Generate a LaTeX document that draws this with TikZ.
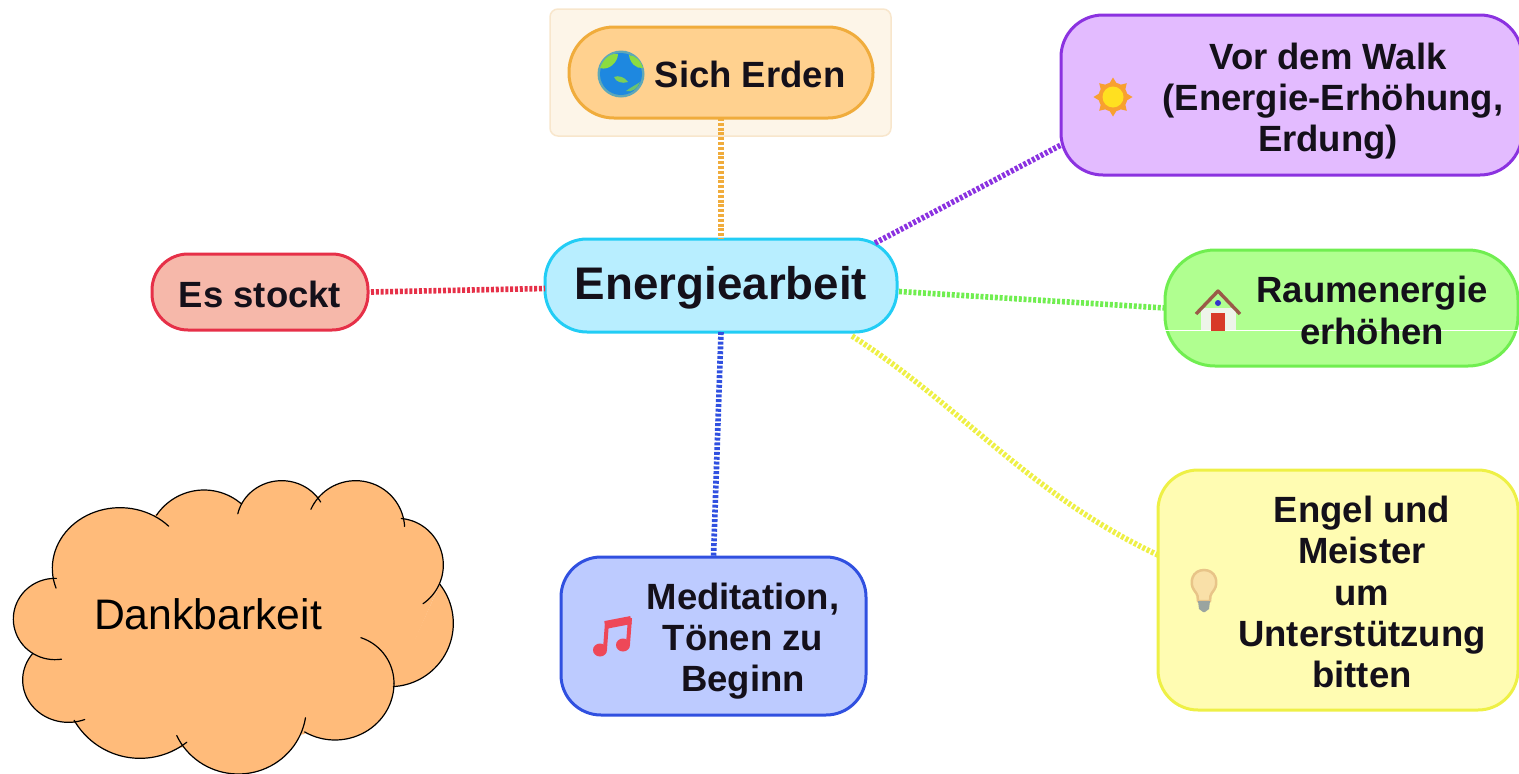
\documentclass[tikz,border=0pt]{standalone}
\usepackage{fontspec}
\setmainfont{Liberation Sans}
\definecolor{txt}{HTML}{14101A}
\definecolor{frameF}{HTML}{FDF5E8}\definecolor{frameD}{HTML}{F8E6CC}
\definecolor{orF}{HTML}{FFD18F}\definecolor{orD}{HTML}{F0AC3C}
\definecolor{puF}{HTML}{E3BBFF}\definecolor{puD}{HTML}{8B32E0}
\definecolor{grF}{HTML}{B0FF90}\definecolor{grD}{HTML}{70EE50}
\definecolor{cyF}{HTML}{B8EEFF}\definecolor{cyD}{HTML}{22CDF5}
\definecolor{reF}{HTML}{F6B8AA}\definecolor{reD}{HTML}{E63048}
\definecolor{blF}{HTML}{BDCBFF}\definecolor{blD}{HTML}{3050E0}
\definecolor{yeF}{HTML}{FFFCB2}\definecolor{yeD}{HTML}{EEF046}
\definecolor{cloudF}{HTML}{FFBB7A}
\definecolor{globeB}{HTML}{1E88E0}\definecolor{globeR}{HTML}{5FA8B8}\definecolor{globeG}{HTML}{8CDC40}
\definecolor{sunO}{HTML}{F8A030}\definecolor{sunY}{HTML}{FFE020}
\definecolor{noteR}{HTML}{EE4858}
\definecolor{bulbF}{HTML}{F9E0A8}\definecolor{bulbD}{HTML}{E8C488}\definecolor{bulbG}{HTML}{9AA4A0}
\definecolor{roof}{HTML}{9A5A48}\definecolor{door}{HTML}{D83A28}\definecolor{wall}{HTML}{EEF4EA}
\tikzset{
  box/.style n args={6}{draw=#1, fill=#2, line width=3pt, inner sep=0pt, outer sep=0pt, rectangle,
     rounded corners=#3, minimum width=#4, minimum height=#5, #6},
  lbl/.style={font=\fontsize{36.5}{41.3}\selectfont\bfseries, text=txt, align=center, inner sep=0pt},
  link/.style={draw=#1, line width=5.6pt, dash pattern=on 3pt off 1.8pt},
  cloudline/.style={draw=black, line width=1.2pt, line cap=round}
}
\newcommand\lobes{360/295/203/182/161/316, 612/232/172/172/214/311, 845/160/135/128/193/330,
  1067/177/147/145/204/357, 1192/285/138/140/275/416, 1170/460/190/190/-38/87,
  1038/640/144/144/-72/0, 1005/640/177/170/0/121, 715/712/204/200/9/155,
  420/637/228/228/52/150, 205/630/137/127/69/219, 165/447/125/122/81/272}
\begin{document}
\begin{tikzpicture}[x=1pt,y=-1pt]
\useasboundingbox (0,0) rectangle (1519,774);

% boxes
\node[box={frameD}{frameF}{8pt}{341pt}{127pt}{line width=1.5pt}] (frame) at (720.5,72.5) {};
\node[box={orD}{orF}{45pt}{304pt}{91pt}{}] (erden) at (721,72.5) {};
\node[box={puD}{puF}{42pt}{461pt}{160pt}{}] (walk) at (1291.5,95) {};
\node[box={grD}{grF}{50pt}{353pt}{116pt}{}] (raum) at (1341.5,308) {};
\node[box={cyD}{cyF}{42pt}{352pt}{93pt}{}] (energie) at (721,285.5) {};
\node[box={reD}{reF}{36pt}{216pt}{76pt}{}] (stockt) at (260,292) {};
\node[box={blD}{blF}{40pt}{305pt}{158pt}{}] (medi) at (713.5,636) {};
\node[box={yeD}{yeF}{40pt}{360pt}{240pt}{}] (engel) at (1338,590) {};

% connectors
\draw[link=orD] (erden.south) -- (energie.north);
\draw[link=puD] ([xshift=154pt,yshift=42.5pt]energie.center) -- ([xshift=-230.5pt,yshift=-50pt]walk.center);
\draw[link=grD] ([yshift=-6pt,xshift=2pt]energie.east) -- (raum.west);
\draw[link=yeD] ([xshift=131pt,yshift=-50.5pt]energie.center) .. controls (960,405) and (1030,495) .. ([yshift=35pt]engel.west);
\draw[link=blD] (energie.south) -- ([yshift=79pt]medi.center);
\draw[link=reD] ([xshift=3pt]stockt.east) -- ([yshift=-3pt]energie.west);

% thin scan line across the green box
\draw[white, line width=.6pt] (raum.west |- 0,330.5) -- (1519,330.5);

% labels
\node[lbl] (erdenT) at (750,74) {Sich Erden};
\node[lbl] (walkT) at (1333,101) {Vor dem Walk\hspace*{10pt}\\(Energie-Erhöhung,\\Erdung)\hspace*{10pt}};
\node[lbl] (raumT) at (1372,310.5) {Raumenergie\\erhöhen};
\node[lbl, font=\fontsize{45.7}{50}\selectfont\bfseries] (energieT) at (721,288) {Energiearbeit};
\node[lbl] (stocktT) at (260,294) {Es stockt};
\node[lbl] (mediT) at (743,641) {Meditation,\\Tönen zu\\Beginn};
\node[lbl] (engelT) at (1362,592) {Engel und\\Meister\\um\\Unterstützung\\bitten};

% globe
\fill[globeR] (621,74) circle (23.5);
\fill[globeB] (621,74) circle (21);
\fill[globeG] (600,68) .. controls (604,57) and (612,53) .. (618,54) .. controls (618,62) and (609,71) .. (600,68) -- cycle;
\fill[globeG] (629,55) .. controls (636,56) and (641,61) .. (643,68) .. controls (636,69) and (630,63) .. (629,55) -- cycle;
\fill[globeG!85!globeB] (614,77) .. controls (618,75) and (625,77) .. (628,82) .. controls (622,84) and (616,82) .. (614,77) -- cycle;
\fill[globeG!70!globeB] (626,91) .. controls (631,87) and (636,85) .. (640,82) .. controls (638,88) and (632,93) .. (626,91) -- cycle;

% sun
\foreach \a in {0,45,...,315}
  \fill[sunO] ([shift={(\a-20:13)}]1113,97) -- ([shift={(\a:19.5)}]1113,97) -- ([shift={(\a+20:13)}]1113,97) -- cycle;
\fill[sunO] (1113,97) circle (14.5);
\fill[sunY] (1113,97) circle (10.5);

% house
\fill[wall] (1201,308) rectangle (1236,330);
\fill[door] (1211,313) rectangle (1225,331);
\fill[blue!60!gray] (1218,303) circle (3);
\draw[roof, line width=3.4pt, line join=round] (1196,314) -- (1218,291) -- (1240,314);

% note
\fill[noteR] (600,650) ellipse (7 and 6.5);
\fill[noteR] (623,645) ellipse (7 and 6.5);
\draw[noteR, line width=4pt] (605,649) -- (607,622);
\draw[noteR, line width=4pt] (628,644) -- (630,618);
\draw[noteR, line width=8pt] (605,625) -- (631,620);

% bulb
\fill[bulbF, draw=bulbD, line width=2.5pt] (1204,570) .. controls (1192,570) and (1189,583) .. (1194,590) .. controls (1198,595) and (1198,597) .. (1198,601) -- (1210,601) .. controls (1210,597) and (1210,595) .. (1214,590) .. controls (1219,583) and (1216,570) .. (1204,570) -- cycle;
\fill[bulbG] (1198,601) -- (1210,601) -- (1209,609) -- (1205,612) -- (1203,612) -- (1199,609) -- cycle;

% cloud
\begin{scope}[x=.33333pt,y=-.33333pt,yshift=-470pt]
  \filldraw[fill=cloudF, draw=cloudF, line width=2pt] (160,325) -- (470,135) -- (725,100) -- (950,80) -- (1205,145) -- (1315,345) -- (1180,650) -- (910,790) -- (540,830) -- (218,755) -- (105,555) -- cycle;
  \foreach \cx/\cy/\rx/\ry/\s/\e in \lobes
    \fill[cloudF] plot[domain=\s:\e, samples=40, variable=\t] ({\cx+\rx*cos(\t)},{\cy+\ry*sin(\t)});
  \foreach \cx/\cy/\rx/\ry/\s/\e in \lobes
    \draw[cloudline] plot[domain=\s:\e, samples=40, variable=\t] ({\cx+\rx*cos(\t)},{\cy+\ry*sin(\t)});
\end{scope}
\node[inner sep=0pt, font=\fontsize{42.7}{48}\selectfont, text=black] (dank) at (208,614) {Dankbarkeit};
\end{tikzpicture}
\end{document}
